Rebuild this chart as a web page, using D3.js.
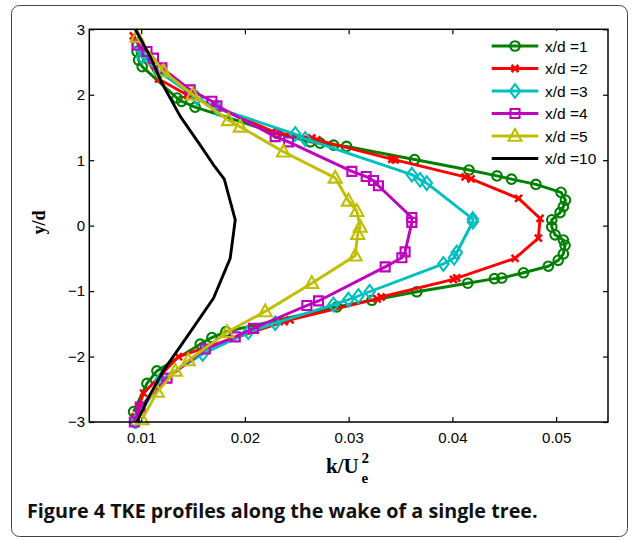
<!DOCTYPE html>
<html><head><meta charset="utf-8">
<script src="https://cdn.jsdelivr.net/npm/d3@7"></script>
<style>body{margin:0;background:#fff}svg{display:block}</style>
</head><body><svg id="c" width="633" height="540"></svg>
<script>
// ---- data ----
const legendLabels = ["x/d =1", "x/d =2", "x/d =3", "x/d =4", "x/d =5", "x/d =10"];
const xTickValues = [0.01, 0.02, 0.03, 0.04, 0.05];
const yTickValues = [-3, -2, -1, 0, 1, 2, 3];

const k1 = [0.0096,0.00975,0.0101,0.01345,0.0139,0.0152,0.0231,0.0263,0.02725,0.02855,0.0298,0.03635,0.0416,0.0443,0.0457,0.04805,0.05047,0.0509,0.0507,0.05038,0.04958,0.04958,0.0499,0.0507,0.05086,0.0507,0.0502,0.04925,0.04685,0.04476,0.04405,0.04148,0.03657,0.03224,0.02886,0.01817,0.01682,0.01569,0.01152,0.01056,0.00927];
const y1 = [2.66,2.53,2.43,1.95,1.90,1.81,1.41,1.28,1.26,1.23,1.21,1.01,0.85,0.76,0.71,0.63,0.51,0.39,0.29,0.20,0.09,-0.02,-0.14,-0.22,-0.30,-0.43,-0.53,-0.62,-0.72,-0.80,-0.81,-0.88,-1.01,-1.14,-1.24,-1.62,-1.71,-1.81,-2.22,-2.41,-2.84];

const k2 = [0.00924,0.01168,0.01441,0.02302,0.02645,0.02694,0.03416,0.03448,0.04122,0.0418,0.04638,0.04845,0.04829,0.04604,0.04042,0.0401,0.03313,0.03275,0.02436,0.02379,0.0136,0.01023,0.00943];
const y2 = [2.90,2.24,2.00,1.42,1.34,1.31,1.015,1.005,0.745,0.714,0.416,0.11,-0.19,-0.50,-0.80,-0.82,-1.09,-1.12,-1.44,-1.465,-2.00,-2.56,-2.92];

const k3 = [0.00962,0.01008,0.01168,0.01538,0.0173,0.02485,0.02581,0.03609,0.03689,0.03753,0.04197,0.04197,0.04042,0.04016,0.03913,0.03202,0.03094,0.02998,0.02854,0.02292,0.02032,0.01593,0.01184,0.00943];
const y3 = [2.76,2.58,2.355,1.95,1.795,1.40,1.325,0.78,0.70,0.65,0.10,0.06,-0.41,-0.49,-0.585,-1.01,-1.075,-1.13,-1.205,-1.49,-1.63,-1.96,-2.36,-3.0];

const k4 = [0.0096,0.01056,0.01119,0.012,0.01473,0.01682,0.0173,0.02292,0.0242,0.03031,0.03169,0.03239,0.03287,0.03609,0.03609,0.03544,0.03513,0.03352,0.02709,0.02597,0.02083,0.01907,0.01618,0.01249,0.00991,0.00934];
const y4 = [2.76,2.66,2.56,2.41,2.075,1.90,1.83,1.36,1.28,0.83,0.75,0.69,0.61,0.125,0.05,-0.40,-0.49,-0.63,-1.15,-1.22,-1.57,-1.70,-1.885,-2.33,-2.77,-3.0];

const k5 = [0.0096,0.01216,0.01497,0.01842,0.01955,0.02372,0.0287,0.02998,0.03079,0.03111,0.03087,0.03063,0.02645,0.02196,0.01827,0.01454,0.01329,0.01155,0.01008];
const y5 = [2.885,2.355,2.00,1.61,1.51,1.13,0.73,0.38,0.22,-0.02,-0.13,-0.46,-0.88,-1.31,-1.63,-2.06,-2.22,-2.54,-2.96];

const k6 = [0.00943,0.01088,0.012,0.01377,0.01569,0.01697,0.01801,0.01907,0.01858,0.01697,0.01441,0.01216,0.01056,0.0096];
const y6 = [3.0,2.58,2.18,1.67,1.23,0.93,0.71,0.09,-0.50,-1.11,-1.70,-2.21,-2.67,-3.0];

// ---- styles ----
const seriesK = [k1, k2, k3, k4, k5, k6];
const seriesY = [y1, y2, y3, y4, y5, y6];
const colors = ["#008000", "#ff0000", "#00bfbf", "#bf00bf", "#bfbf00", "#000000"];
const markers = ["circle", "x", "diamond", "square", "triangle", "none"];

const svg = d3.select("#c");
const L = 89.3, R = 608, T = 29.3, B = 422;
const x = d3.scaleLinear().domain([0.005, 0.055]).range([L, R]);
const y = d3.scaleLinear().domain([-3, 3]).range([B, T]);

// outer frame
svg.append("rect").attr("x", 11.5).attr("y", 5.5).attr("width", 616).attr("height", 531)
  .attr("rx", 8).attr("fill", "#fff").attr("stroke", "#444").attr("stroke-width", 1);

svg.append("defs").append("clipPath").attr("id", "clip")
  .append("rect").attr("x", L - 7).attr("y", T - 7).attr("width", R - L + 14).attr("height", B - T + 14);

const tickFont = "'Liberation Sans', Arial, sans-serif";

// axes
const gx = svg.append("g").attr("transform", `translate(0,${B})`)
  .call(d3.axisBottom(x).tickValues(xTickValues).tickSizeInner(-5).tickSizeOuter(0).tickPadding(10.4).tickFormat(d3.format(".2f")));
const gxt = svg.append("g").attr("transform", `translate(0,${T})`)
  .call(d3.axisTop(x).tickValues(xTickValues).tickSizeInner(-5).tickSizeOuter(0).tickFormat(""));
const gy = svg.append("g").attr("transform", `translate(${L},0)`)
  .call(d3.axisLeft(y).tickValues(yTickValues).tickSizeInner(-5).tickSizeOuter(0).tickPadding(4.3).tickFormat(d3.format("d")));
const gyr = svg.append("g").attr("transform", `translate(${R},0)`)
  .call(d3.axisRight(y).tickValues(yTickValues).tickSizeInner(-5).tickSizeOuter(0).tickFormat(""));
[gx, gxt, gy, gyr].forEach(g => {
  g.select(".domain").remove();
  g.selectAll("line").attr("stroke", "#000").attr("stroke-width", 1.2);
  g.selectAll("text").attr("font-family", tickFont).attr("font-size", 15).attr("fill", "#000");
});

// data
const plot = svg.append("g").attr("clip-path", "url(#clip)");
const line = d3.line().x(d => x(d[0])).y(d => y(d[1]));

function markerPath(type) {
  switch (type) {
    case "circle": return d3.symbol(d3.symbolCircle, 72)();
    case "square": return "M-4.5,-4.5H4.5V4.5H-4.5Z";
    case "diamond": return "M0,-6.8L5.2,0L0,6.8L-5.2,0Z";
    case "triangle": return "M0,-7L6.5,4.8L-6.5,4.8Z";
    case "x": return "M-3.5,-3.5L3.5,3.5M-3.5,3.5L3.5,-3.5";
    default: return null;
  }
}

seriesK.forEach((ks, i) => {
  const pts = ks.map((k, j) => [k, seriesY[i][j]]);
  const g = plot.append("g");
  g.append("path").datum(pts).attr("d", line).attr("fill", "none")
    .attr("stroke", colors[i]).attr("stroke-width", 2.9).attr("stroke-linejoin", "round");
  const mp = markerPath(markers[i]);
  if (mp) {
    g.selectAll("path.m").data(pts).join("path").attr("class", "m")
      .attr("d", mp).attr("transform", d => `translate(${x(d[0])},${y(d[1])})`)
      .attr("fill", "none").attr("stroke", colors[i]).attr("stroke-width", markers[i] === "x" ? 2.6 : 2.1);
  }
});

// box
svg.append("rect").attr("x", L).attr("y", T).attr("width", R - L).attr("height", B - T)
  .attr("fill", "none").attr("stroke", "#000").attr("stroke-width", 1.5);

// legend
const lg = svg.append("g");
lg.append("rect").attr("x", 486).attr("y", 31).attr("width", 116).attr("height", 137).attr("fill", "#fff");
legendLabels.forEach((lab, i) => {
  const cy = 46 + i * 22.5;
  lg.append("line").attr("x1", 491.7).attr("x2", 538.3).attr("y1", cy).attr("y2", cy)
    .attr("stroke", colors[i]).attr("stroke-width", 2.9);
  const mp = markerPath(markers[i]);
  if (mp) lg.append("path").attr("d", mp).attr("transform", `translate(515,${cy})`)
    .attr("fill", "none").attr("stroke", colors[i]).attr("stroke-width", markers[i] === "x" ? 2.6 : 2.1);
  lg.append("text").attr("x", 545).attr("y", cy).attr("dy", "0.36em")
    .attr("font-family", tickFont).attr("font-size", 15.5).text(lab);
});

// axis labels
const serif = "'Liberation Serif', 'Times New Roman', serif";
svg.append("text").attr("x", 326).attr("y", 473.3)
  .attr("font-family", serif).attr("font-weight", "bold").attr("font-size", 21).text("k/U");
svg.append("text").attr("x", 361.5).attr("y", 463).attr("font-family", serif).attr("font-weight", "bold")
  .attr("font-size", 15).text("2");
svg.append("text").attr("x", 361.5).attr("y", 483).attr("font-family", serif).attr("font-weight", "bold")
  .attr("font-size", 15).text("e");
svg.append("text").attr("transform", "translate(45,222.5) rotate(-90)").attr("text-anchor", "middle")
  .attr("font-family", serif).attr("font-weight", "bold").attr("font-size", 18).text("y/d");

// caption
const cap = svg.append("text").attr("x", 27).attr("y", 518)
  .attr("font-family", "'Open Sans', 'Noto Sans', sans-serif").attr("font-weight", "bold").attr("font-size", 17)
  .attr("fill", "#111");
cap.append("tspan").text("Figure 4");
cap.append("tspan").text(" TKE profiles along the wake of a single tree.");
const w = cap.node().getComputedTextLength();
cap.attr("font-size", 17 * 511 / w);
</script></body></html>
